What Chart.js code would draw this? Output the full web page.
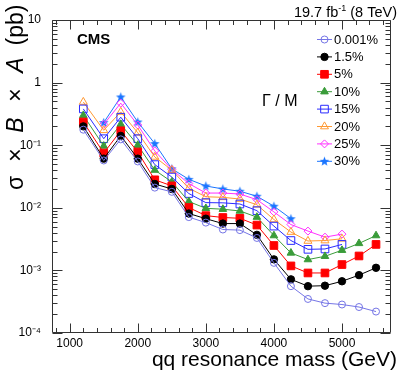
<!DOCTYPE html>
<html lang="en">
<head>
<meta charset="UTF-8">
<title>qq resonance cross section limits</title>
<style>
  body { margin: 0; background: #fff; }
  #chart { display: block; }
</style>
<script src="https://cdn.jsdelivr.net/npm/chart.js"></script>
</head>
<body>
<canvas id="chart" width="399" height="383"></canvas>
<script>
// resonance masses (GeV)
var masses = [1200, 1500, 1750, 2000, 2250, 2500, 2750, 3000, 3250, 3500, 3750, 4000, 4250, 4500, 4750, 5000, 5250, 5500];

// sigma x B x A (pb) per width hypothesis
var width0001 = [0.177, 0.057, 0.124, 0.055, 0.021, 0.018, 0.0071, 0.0058, 0.0045, 0.0044, 0.0033, 0.00132, 0.00056, 0.00035, 0.00030, 0.000285, 0.00026, 0.00022];
var width1p5  = [0.20, 0.061, 0.141, 0.061, 0.024, 0.020, 0.0081, 0.0067, 0.0056, 0.0056, 0.0037, 0.0015, 0.00072, 0.00056, 0.00057, 0.00067, 0.00084, 0.0011];
var width5    = [0.235, 0.075, 0.17, 0.078, 0.028, 0.0224, 0.0101, 0.0075, 0.0070, 0.0068, 0.0053, 0.0025, 0.00118, 0.00091, 0.00091, 0.00124, 0.0017, 0.0026];
var width10   = [0.30, 0.097, 0.216, 0.10, 0.040, 0.026, 0.0126, 0.0098, 0.0095, 0.0089, 0.0071, 0.0036, 0.0019, 0.00149, 0.00168, 0.0021, 0.0027, 0.0036];
var width15   = [0.38, 0.127, 0.28, 0.127, 0.049, 0.031, 0.0169, 0.0121, 0.012, 0.0115, 0.0090, 0.0051, 0.0030, 0.00217, 0.0022, 0.0026, null, null];
var width20   = [0.49, 0.173, 0.34, 0.158, 0.065, 0.040, 0.0205, 0.015, 0.0147, 0.0138, 0.0112, 0.0065, 0.0041, 0.00295, 0.0030, 0.0032, null, null];
var width25   = [null, 0.215, 0.47, 0.21, 0.081, 0.041, 0.0244, 0.0172, 0.0172, 0.0166, 0.0135, 0.0086, 0.0054, 0.00425, 0.0034, 0.0038, null, null];
var width30   = [null, 0.23, 0.59, 0.235, 0.106, 0.042, 0.0285, 0.0223, 0.020, 0.0184, 0.0153, 0.0106, 0.0067, null, null, null, null, null];

var seriesLabels = ['0.001%', '1.5%', '5%', '10%', '15%', '20%', '25%', '30%'];

// axis ticks
var xTickValues = [1000, 2000, 3000, 4000, 5000];
var yTickValues = [1e-4, 1e-3, 1e-2, 1e-1, 1, 10];
var yTickLabels = ['10\u207B\u2074', '10\u207B\u00B3', '10\u207B\u00B2', '10\u207B\u00B9', '1', '10'];

var FONT = '"Liberation Sans", Arial, Helvetica, sans-serif';

// filled star marker (no built-in filled star in Chart.js)
function makeStar(color) {
  var c = document.createElement('canvas');
  c.width = 11; c.height = 11;
  var g = c.getContext('2d');
  g.fillStyle = color;
  g.beginPath();
  for (var i = 0; i < 10; i++) {
    var r = i % 2 === 0 ? 5 : 2.1;
    var a = -Math.PI / 2 + i * Math.PI / 5;
    var px = 5.5 + r * Math.cos(a), py = 5.8 + r * Math.sin(a);
    if (i === 0) g.moveTo(px, py); else g.lineTo(px, py);
  }
  g.closePath();
  g.fill();
  return c;
}

function pts(vals) {
  return masses.map(function(m, i) { return { x: m, y: vals[i] }; })
               .filter(function(p) { return p.y !== null; });
}

function series(label, vals, color, style, radius, filled) {
  return {
    label: label,
    data: pts(vals),
    borderColor: color,
    backgroundColor: filled ? color : 'rgba(255,255,255,0)',
    borderWidth: 1,
    pointStyle: style,
    pointRadius: radius,
    pointBorderWidth: 1,
    pointBorderColor: color,
    pointBackgroundColor: filled ? color : 'rgba(255,255,255,0)',
    tension: 0
  };
}

var datasets = [
  series(seriesLabels[0], width0001, '#7575e6', 'circle', 3.5, false),
  series(seriesLabels[1], width1p5, '#000000', 'circle', 3.7, true),
  series(seriesLabels[2], width5, '#ff0000', 'rect', 5.4, true),
  series(seriesLabels[3], width10, '#3a9c3a', 'triangle', 4.4, true),
  series(seriesLabels[4], width15, '#2b2bff', 'rect', 5.4, false),
  series(seriesLabels[5], width20, '#ff9933', 'triangle', 4.6, false),
  series(seriesLabels[6], width25, '#ff33ff', 'rectRot', 4, false),
  series(seriesLabels[7], width30, '#1a75ff', makeStar('#1a75ff'), 5, true)
];

function isDecade(v) {
  var l = Math.log10(v);
  return Math.abs(l - Math.round(l)) < 1e-6;
}

var overlay = {
  id: 'overlay',
  beforeDraw: function(chart) {
    var ctx = chart.ctx;
    ctx.save();
    ctx.fillStyle = '#fff';
    ctx.fillRect(0, 0, chart.width, chart.height);
    ctx.restore();
  },
  afterDraw: function(chart) {
    var ctx = chart.ctx, a = chart.chartArea;
    var xs = chart.scales.x, ys = chart.scales.y;
    var L = Math.round(a.left) + 0.5, R = Math.round(a.right) - 0.5;
    var T = Math.round(a.top) + 0.5, B = Math.round(a.bottom) - 0.5;
    ctx.save();
    ctx.strokeStyle = '#333';
    ctx.lineWidth = 1;
    ctx.beginPath();
    // frame
    ctx.rect(L, T, R - L, B - T);
    // inward ticks, all four sides
    xs.ticks.forEach(function(t) {
      var px = Math.round(xs.getPixelForValue(t.value)) + 0.5;
      var len = t.value % 1000 === 0 ? 9 : 4.5;
      ctx.moveTo(px, B); ctx.lineTo(px, B - len);
      ctx.moveTo(px, T); ctx.lineTo(px, T + len);
    });
    ys.ticks.forEach(function(t) {
      var py = Math.round(ys.getPixelForValue(t.value)) + 0.5;
      var len = isDecade(t.value) ? 10 : 5;
      ctx.moveTo(L, py); ctx.lineTo(L + len, py);
      ctx.moveTo(R, py); ctx.lineTo(R - len, py);
    });
    ctx.stroke();

    ctx.fillStyle = '#000';
    // x title
    ctx.font = '21px ' + FONT;
    ctx.textAlign = 'right';
    ctx.textBaseline = 'alphabetic';
    ctx.fillText('qq resonance mass (GeV)', 397, 366);

    // y title: sigma x B x A (pb), B and A in italics
    ctx.save();
    ctx.translate(23, 0);
    ctx.rotate(-Math.PI / 2);
    ctx.textAlign = 'center';
    [['\u03C3', 183, ''], ['\u00D7', 155, ''], ['B', 125, 'italic '], ['\u00D7', 95, ''],
     ['A', 65, 'italic '], ['(pb)', 25, '']].forEach(function(p) {
      ctx.font = p[2] + '23px ' + FONT;
      ctx.fillText(p[0], -p[1], 0);
    });
    ctx.restore();

    // CMS label
    ctx.textAlign = 'left';
    ctx.font = 'bold 15px ' + FONT;
    ctx.fillText('CMS', 77, 44);

    // luminosity label
    ctx.font = '14.5px ' + FONT;
    var tail = ' (8 TeV)', head = '19.7 fb';
    var wTail = ctx.measureText(tail).width, wHead = ctx.measureText(head).width;
    ctx.font = '9px ' + FONT;
    var sup = '-1', wSup = ctx.measureText(sup).width;
    var x0 = 397 - wTail - wSup - wHead;
    ctx.font = '14.5px ' + FONT;
    ctx.fillText(head, x0, 17);
    ctx.font = '9px ' + FONT;
    ctx.fillText(sup, x0 + wHead, 11);
    ctx.font = '14.5px ' + FONT;
    ctx.fillText(tail, x0 + wHead + wSup, 17);

    // Gamma / M
    ctx.font = '16px ' + FONT;
    ctx.fillText('\u0393 / M', 262, 106);

    // legend
    ctx.font = '13px ' + FONT;
    ctx.textBaseline = 'middle';
    chart.data.datasets.forEach(function(ds, i) {
      var y = 39 + i * 17.4;
      ctx.strokeStyle = ds.borderColor;
      ctx.beginPath();
      ctx.moveTo(317, y + 0.5); ctx.lineTo(332, y + 0.5);
      ctx.stroke();
      if (Chart.helpers && Chart.helpers.drawPoint) {
        ctx.fillStyle = ds.pointBackgroundColor;
        ctx.strokeStyle = ds.pointBorderColor;
        Chart.helpers.drawPoint(ctx, { pointStyle: ds.pointStyle, radius: ds.pointRadius, rotation: 0, borderWidth: 1 }, 324.5, y + 0.5);
      }
      ctx.fillStyle = '#000';
      ctx.fillText(ds.label, 334, y + 1);
    });
    ctx.restore();
  }
};

var chart = new Chart(document.getElementById('chart'), {
  type: 'line',
  data: { datasets: datasets },
  options: {
    responsive: false,
    animation: false,
    devicePixelRatio: 1,
    layout: { padding: { left: 0, right: 8, top: 20, bottom: 0 } },
    plugins: { legend: { display: false }, tooltip: { enabled: false } },
    scales: {
      x: {
        type: 'linear',
        min: 740,
        max: 5720,
        grid: { display: false },
        border: { display: false },
        afterBuildTicks: function(s) {
          var t = [];
          for (var v = 800; v <= 5600; v += 200) t.push({ value: v });
          s.ticks = t;
        },
        afterFit: function(s) { s.height = 50; },
        ticks: {
          autoSkip: false,
          maxRotation: 0,
          padding: -5,
          color: '#000',
          font: { family: FONT, size: 12 },
          callback: function(v) { return xTickValues.indexOf(v) >= 0 ? String(v) : ''; }
        }
      },
      y: {
        type: 'logarithmic',
        min: 1e-4,
        max: 10,
        grid: { display: false },
        border: { display: false },
        afterBuildTicks: function(s) {
          var t = [];
          for (var e = -4; e <= 0; e++)
            for (var m = 1; m <= 9; m++) t.push({ value: parseFloat((m * Math.pow(10, e)).toPrecision(3)) });
          t.push({ value: 10 });
          s.ticks = t;
        },
        afterFit: function(s) { s.width = 52; },
        ticks: {
          autoSkip: false,
          padding: 3,
          color: '#000',
          font: { family: FONT, size: 12 },
          callback: function(v) {
            if (!isDecade(v)) return '';
            return yTickLabels[Math.round(Math.log10(v)) + 4];
          }
        }
      }
    }
  },
  plugins: [overlay]
});
</script>
</body>
</html>
